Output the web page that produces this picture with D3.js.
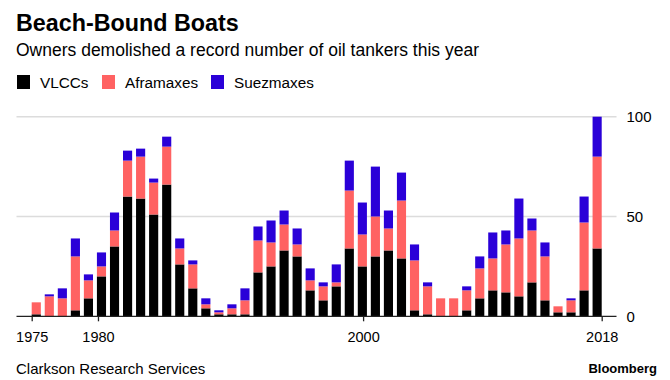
<!DOCTYPE html>
<html>
<head>
<meta charset="utf-8">
<script src="https://cdn.jsdelivr.net/npm/d3@7/dist/d3.min.js"></script>
<style>
  html, body { margin: 0; padding: 0; background: #fff; }
  svg { display: block; font-family: "Liberation Sans", Arial, sans-serif; }
</style>
</head>
<body>
<svg id="chart" width="670" height="380"></svg>
<script>
const years = [1975,1976,1977,1978,1979,1980,1981,1982,1983,1984,1985,1986,
  1987,1988,1989,1990,1991,1992,1993,1994,1995,1996,1997,1998,
  1999,2000,2001,2002,2003,2004,2005,2006,2007,2008,2009,2010,
  2011,2012,2013,2014,2015,2016,2017,2018];
const vlcc = [1,0,0,3,9,20,35,60,59,51,66,26,
  14,4,1,1,1,22,25,33,30,13,8,15,
  34,25,30,33,29,3,1,0,0,3,9,13,
  12,10,17,8,2,2,13,34];
const aframax = [6,10,9,27,9,5,8,18,21,16,19,8,
  12,2,1,3,7,16,12,13,6,5,7,2,
  29,16,20,11,29,25,14,9,9,10,15,16,
  24,29,26,22,3,6,34,46];
const suezmax = [0,1,5,9,3,7,9,5,4,2,5,5,
  2,3,1,2,6,7,11,7,8,6,2,9,
  15,16,25,9,14,8,2,0,0,2,6,13,
  7,20,6,7,0,1,13,20];
const seriesNames = ["VLCCs", "Aframaxes", "Suezmaxes"];
const colors = ["#000000", "#ff6262", "#2a00d8"];
const xTickValues = [1975, 1980, 2000, 2018];
const yTickValues = [0, 50, 100];

const rows = years.map((yr, i) => ({year: yr, VLCCs: vlcc[i], Aframaxes: aframax[i], Suezmaxes: suezmax[i]}));
const stacked = d3.stack().keys(seriesNames)(rows);

const svg = d3.select("#chart");

const x = d3.scaleBand().domain(years).range([31.7, 601.7]).paddingInner(0.3).paddingOuter(0);
const xt = d3.scaleLinear().domain([1975, 2018]).range([31.7, 601.7]);
const y = d3.scaleLinear().domain([0, 100]).range([316.3, 116.7]);
const plotLeft = 16.5, plotRight = 616.5;

// title
svg.append("text").attr("x", 16).attr("y", 31).attr("font-size", 23.3).attr("font-weight", "bold")
  .attr("fill", "#000").text("Beach-Bound Boats");
svg.append("text").attr("x", 16).attr("y", 56).attr("font-size", 17.5)
  .attr("fill", "#000").text("Owners demolished a record number of oil tankers this year");

// legend
const legendX = [17, 102, 211];
seriesNames.forEach((name, i) => {
  const g = svg.append("g").attr("transform", `translate(${legendX[i]},0)`);
  g.append("rect").attr("x", 0).attr("y", 75).attr("width", 13).attr("height", 14).attr("fill", colors[i]);
  g.append("text").attr("x", 23).attr("y", 88).attr("font-size", 15.3).attr("fill", "#000").text(name);
});

// gridlines
svg.append("g").selectAll("line").data(yTickValues.filter(v => v > 0)).join("line")
  .attr("x1", plotLeft).attr("x2", plotRight)
  .attr("y1", d => y(d)).attr("y2", d => y(d))
  .attr("stroke", "#dcdcdc").attr("stroke-width", 1.5);

// bars
svg.append("g").selectAll("g").data(stacked).join("g")
  .attr("fill", (d, i) => colors[i])
  .selectAll("rect").data(d => d).join("rect")
  .attr("x", d => x(d.data.year))
  .attr("width", x.bandwidth())
  .attr("y", d => y(d[1]))
  .attr("height", d => y(d[0]) - y(d[1]));

// baseline
svg.append("line").attr("x1", plotLeft).attr("x2", plotRight)
  .attr("y1", y(0)).attr("y2", y(0)).attr("stroke", "#222").attr("stroke-width", 1.3);

// x axis
const xAxis = svg.append("g").attr("transform", `translate(0,${y(0)})`)
  .call(d3.axisBottom(xt).tickValues(xTickValues).tickFormat(d3.format("d")).tickSizeInner(5).tickSizeOuter(0).tickPadding(10));
xAxis.select(".domain").remove();
xAxis.selectAll("line").attr("stroke", "#222").attr("stroke-width", 1.3);
xAxis.selectAll("text").attr("font-size", 14.5).attr("fill", "#000").attr("font-family", "Liberation Sans, Arial, sans-serif");

// y axis (right)
const yAxis = svg.append("g").attr("transform", `translate(${plotRight},0)`)
  .call(d3.axisRight(y).tickValues(yTickValues).tickSize(0).tickPadding(10));
yAxis.select(".domain").remove();
yAxis.selectAll("text").attr("font-size", 15).attr("fill", "#000").attr("font-family", "Liberation Sans, Arial, sans-serif");

// footer
svg.append("text").attr("x", 16).attr("y", 374).attr("font-size", 15).attr("fill", "#000").text("Clarkson Research Services");
svg.append("text").attr("x", 657).attr("y", 373).attr("font-size", 13).attr("font-weight", "bold")
  .attr("text-anchor", "end").attr("fill", "#000").text("Bloomberg");
</script>
</body>
</html>
